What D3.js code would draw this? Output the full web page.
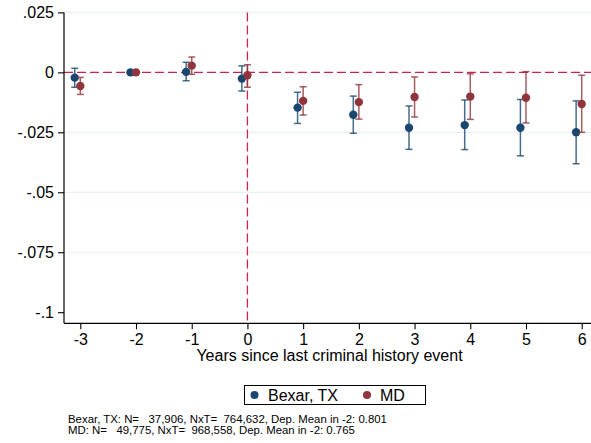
<!DOCTYPE html>
<html>
<head>
<meta charset="utf-8">
<script src="https://cdn.jsdelivr.net/npm/d3@7"></script>
<style>
  html, body { margin: 0; padding: 0; background: #fff; }
  svg { display: block; font-family: "Liberation Sans", Arial, Helvetica, sans-serif; }
</style>
</head>
<body>
<svg id="chart" width="591" height="443"></svg>
<script>
// Event-study coefficients by years since last criminal history event
const years = [-3, -2, -1, 0, 1, 2, 3, 4, 5, 6];

const bexarEst = [-0.0022, 0, 0.0002, -0.0026, -0.0147, -0.0177, -0.0231, -0.0220, -0.0231, -0.0250];
const bexarLo  = [-0.0062, 0, -0.0035, -0.0078, -0.0213, -0.0254, -0.0321, -0.0322, -0.0348, -0.0381];
const bexarHi  = [0.0017, 0, 0.0042, 0.0027, -0.0083, -0.0099, -0.0140, -0.0115, -0.0113, -0.0119];

const mdEst = [-0.0057, 0, 0.0028, -0.0012, -0.0119, -0.0124, -0.0103, -0.0101, -0.0106, -0.0132];
const mdLo  = [-0.0092, 0, -0.0008, -0.0062, -0.0178, -0.0195, -0.0186, -0.0196, -0.0211, -0.0250];
const mdHi  = [-0.0021, 0, 0.0064, 0.0032, -0.0060, -0.0051, -0.0019, -0.0006, 0.0003, -0.0012];

const yTicks = [0.025, 0, -0.025, -0.05, -0.075, -0.1];
const yTickLabels = [".025", "0", "-.025", "-.05", "-.075", "-.1"];
const xTicks = [-3, -2, -1, 0, 1, 2, 3, 4, 5, 6];
const xTickLabels = ["-3", "-2", "-1", "0", "1", "2", "3", "4", "5", "6"];

const seriesNames = ["Bexar, TX", "MD"];
const footnotes = [
  "Bexar, TX: N=   37,906, NxT=  764,632, Dep. Mean in -2: 0.801",
  "MD: N=   49,775, NxT=  968,558, Dep. Mean in -2: 0.765"
];
const xTitle = "Years since last criminal history event";

const navy = "#1a476f";
const maroon = "#90353b";
const refColor = "#c9234f";

const plot = { left: 64, right: 591, top: 12.4, bottom: 323.3 };
const fontMain = "16px";

const svg = d3.select("#chart");

const x = d3.scaleLinear().domain([-3, 6]).range([80.3, 581.7]);
const y = d3.scaleLinear().domain([-0.1, 0.025]).range([312.2, 12.4]);

// Light horizontal gridlines
svg.append("g")
  .selectAll("line")
  .data(yTicks.filter(v => v !== 0 && v !== -0.1))
  .join("line")
  .attr("x1", plot.left).attr("x2", plot.right)
  .attr("y1", d => y(d)).attr("y2", d => y(d))
  .attr("stroke", "#eaf1f2").attr("stroke-width", 1.2);

// Reference lines at zero
svg.append("line")
  .attr("x1", plot.left).attr("x2", plot.right)
  .attr("y1", y(0)).attr("y2", y(0))
  .attr("stroke", refColor).attr("stroke-width", 1.3)
  .attr("stroke-dasharray", "9,4");
svg.append("line")
  .attr("x1", x(0)).attr("x2", x(0))
  .attr("y1", plot.top).attr("y2", plot.bottom)
  .attr("stroke", refColor).attr("stroke-width", 1.3)
  .attr("stroke-dasharray", "9,4");

// Axes
const yAxis = d3.axisLeft(y)
  .tickValues(yTicks)
  .tickFormat((d, i) => yTickLabels[i])
  .tickSize(6).tickPadding(4);
const gy = svg.append("g").attr("transform", `translate(${plot.left},0)`).call(yAxis);
gy.select(".domain").remove();
gy.append("line")
  .attr("x1", 0).attr("x2", 0)
  .attr("y1", plot.top).attr("y2", plot.bottom)
  .attr("stroke", "#000").attr("stroke-width", 1.2);

const xAxis = d3.axisBottom(x)
  .tickValues(xTicks)
  .tickFormat((d, i) => xTickLabels[i])
  .tickSize(6).tickPadding(4);
const gx = svg.append("g").attr("transform", `translate(0,${plot.bottom})`).call(xAxis);
gx.select(".domain").remove();
gx.append("line")
  .attr("x1", plot.left).attr("x2", plot.right)
  .attr("y1", 0).attr("y2", 0)
  .attr("stroke", "#000").attr("stroke-width", 1.2);

[gy, gx].forEach(g => {
  g.selectAll(".tick line").attr("stroke", "#000").attr("stroke-width", 1.1);
  g.selectAll(".tick text")
    .attr("fill", "#000")
    .style("font-size", fontMain)
    .style("font-family", "'Liberation Sans', Arial, Helvetica, sans-serif");
});

svg.append("text")
  .attr("x", 329.5).attr("y", 361)
  .attr("text-anchor", "middle")
  .style("font-size", fontMain)
  .text(xTitle);

// Point estimates with 95% confidence intervals
const series = [
  { name: seriesNames[0], est: bexarEst, lo: bexarLo, hi: bexarHi, color: navy, shift: -0.1 },
  { name: seriesNames[1], est: mdEst, lo: mdLo, hi: mdHi, color: maroon, shift: 0 }
];

series.forEach(s => {
  const rows = years.map((t, i) => ({ t: t + s.shift, est: s.est[i], lo: s.lo[i], hi: s.hi[i] }));
  const g = svg.append("g");
  const ci = rows.filter(d => d.hi !== d.lo);
  const cap = 3.5;
  g.selectAll("line.ci").data(ci).join("line")
    .attr("x1", d => x(d.t)).attr("x2", d => x(d.t))
    .attr("y1", d => y(d.hi)).attr("y2", d => y(d.lo))
    .attr("stroke", s.color).attr("stroke-width", 1.5).attr("stroke-opacity", 0.8);
  g.selectAll("line.capHi").data(ci).join("line")
    .attr("x1", d => x(d.t) - cap).attr("x2", d => x(d.t) + cap)
    .attr("y1", d => y(d.hi)).attr("y2", d => y(d.hi))
    .attr("stroke", s.color).attr("stroke-width", 1.5).attr("stroke-opacity", 0.8);
  g.selectAll("line.capLo").data(ci).join("line")
    .attr("x1", d => x(d.t) - cap).attr("x2", d => x(d.t) + cap)
    .attr("y1", d => y(d.lo)).attr("y2", d => y(d.lo))
    .attr("stroke", s.color).attr("stroke-width", 1.5).attr("stroke-opacity", 0.8);
  g.selectAll("circle").data(rows).join("circle")
    .attr("cx", d => x(d.t)).attr("cy", d => y(d.est))
    .attr("r", 4.2).attr("fill", s.color);
});

// Legend
const legend = svg.append("g");
legend.append("rect")
  .attr("x", 244.5).attr("y", 385.5).attr("width", 181).attr("height", 19)
  .attr("fill", "#fff").attr("stroke", "#000").attr("stroke-width", 1);
const legendItems = [
  { name: seriesNames[0], color: navy, cx: 254.5, tx: 268 },
  { name: seriesNames[1], color: maroon, cx: 367, tx: 380 }
];
legendItems.forEach(it => {
  legend.append("circle").attr("cx", it.cx).attr("cy", 395).attr("r", 4).attr("fill", it.color);
  legend.append("text").attr("x", it.tx).attr("y", 400.8)
    .style("font-size", fontMain).text(it.name);
});

// Sample-size notes
svg.append("g").selectAll("text").data(footnotes).join("text")
  .attr("x", 68).attr("y", (d, i) => 423.3 + i * 11)
  .style("font-size", "11.4px")
  .style("white-space", "pre")
  .text(d => d);
</script>
</body>
</html>
